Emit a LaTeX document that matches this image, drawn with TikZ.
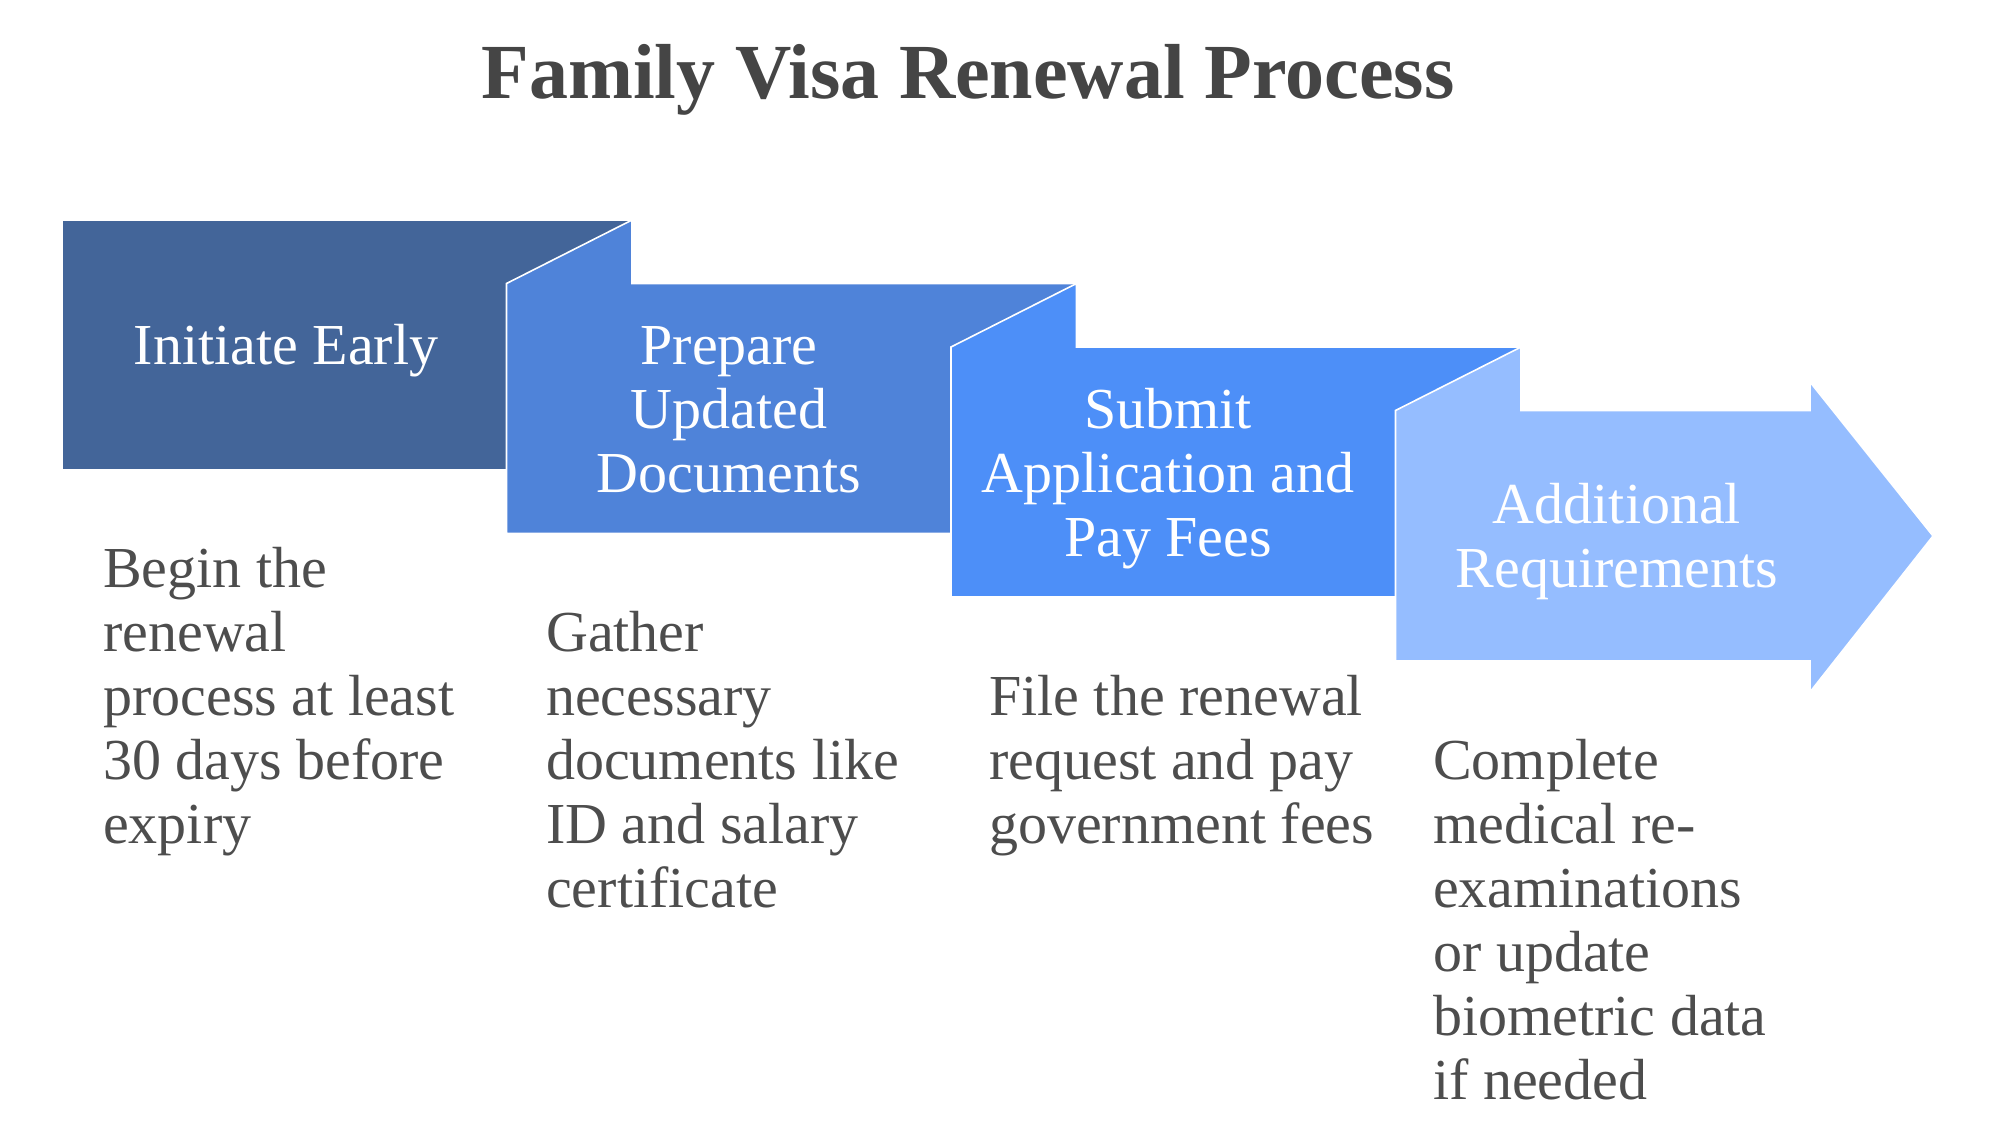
\documentclass[tikz,border=0pt]{standalone}
\usepackage{fontspec}
\setmainfont{Liberation Serif}
\definecolor{cA}{HTML}{436599}
\definecolor{cB}{HTML}{4F83D9}
\definecolor{cC}{HTML}{4D8FF8}
\definecolor{cD}{HTML}{95BDFF}
\definecolor{descgray}{HTML}{4D4D4D}
\definecolor{titlegray}{HTML}{454545}
\begin{document}
\begin{tikzpicture}[x=1pt,y=-1pt,
  stepshape/.style={draw=white, line width=1.6pt, line join=miter},
  lbl/.style={text=white, font=\fontsize{58}{64}\selectfont, inner sep=0pt, anchor=base},
  desc/.style={text=descgray, font=\fontsize{58}{64}\selectfont, inner sep=0pt, anchor=base west},
  ttl/.style={text=titlegray, font=\bfseries\fontsize{78}{90}\selectfont, inner sep=0pt, anchor=base}]
\useasboundingbox (0,0) rectangle (1999,1145);

% step shapes
\fill[cA, stepshape] (62,220) rectangle (632,470);
\fill[cB, stepshape] (506.5,283.5) -- (632,220) -- (632,283.5) -- (1076.5,283.5)
   -- (1076.5,533.5) -- (506.5,533.5) -- cycle;
\fill[cC, stepshape] (951,347) -- (1076.5,283.5) -- (1076.5,347) -- (1521,347)
   -- (1521,597) -- (951,597) -- cycle;
\fill[cD, stepshape] (1395.5,410.5) -- (1521,347) -- (1521,410.5) -- (1810,410.5)
   -- (1810,382) -- (1933,536) -- (1810,692) -- (1810,661) -- (1395.5,661) -- cycle;

% title
\node[ttl] (title) at (968,99) {Family Visa Renewal Process};

% labels
\node[lbl] (l1) at (286,364) {\begin{tabular}[t]{@{}c@{}}Initiate Early\end{tabular}};
\node[lbl] (l2) at (729,364) {\begin{tabular}[t]{@{}c@{}}Prepare\\Updated\\Documents\end{tabular}};
\node[lbl] (l3) at (1168,428) {\begin{tabular}[t]{@{}c@{}}Submit\\Application and\\Pay Fees\end{tabular}};
\node[lbl] (l4) at (1617,523) {\begin{tabular}[t]{@{}c@{}}Additional\\Requirements\end{tabular}};

% descriptions
\node[desc] (d1) at (103,587) {\begin{tabular}[t]{@{}l@{}}Begin the\\renewal\\process at least\\30 days before\\expiry\end{tabular}};
\node[desc] (d2) at (546,651) {\begin{tabular}[t]{@{}l@{}}Gather\\necessary\\documents like\\ID and salary\\certificate\end{tabular}};
\node[desc] (d3) at (989,715) {\begin{tabular}[t]{@{}l@{}}File the renewal\\request and pay\\government fees\end{tabular}};
\node[desc] (d4) at (1433,779) {\begin{tabular}[t]{@{}l@{}}Complete\\medical re-\\examinations\\or update\\biometric data\\if needed\end{tabular}};
\end{tikzpicture}
\end{document}
